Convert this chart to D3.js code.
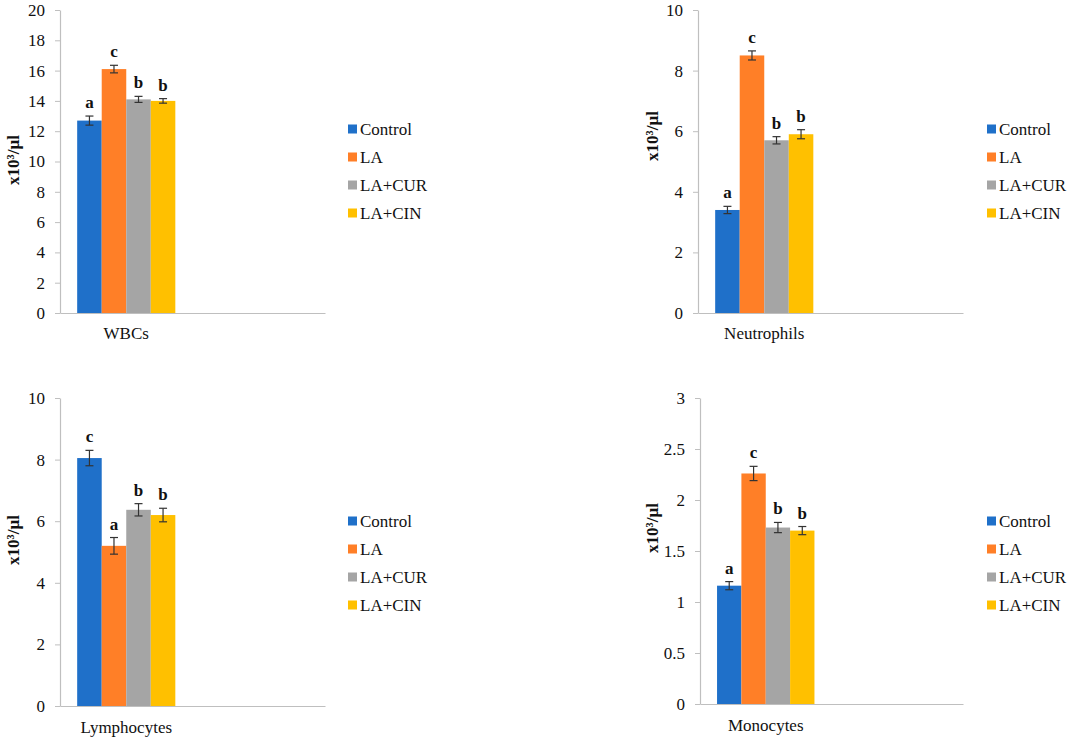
<!DOCTYPE html>
<html><head><meta charset="utf-8">
<script src="https://cdn.jsdelivr.net/npm/d3@7"></script>
<style>
body{margin:0;background:#fff;}
svg text{font-family:"Liberation Serif","Times New Roman",serif !important;}
</style></head>
<body>
<svg id="chart" width="1072" height="738"></svg>
<script>
const groups = ["Control", "LA", "LA+CUR", "LA+CIN"];
const colors = ["#1F70C9", "#FF7F27", "#A5A5A5", "#FFC000"];
const panelNames = ["WBCs", "Neutrophils", "Lymphocytes", "Monocytes"];
const wbcValues = [12.7, 16.1, 14.1, 14.0];
const wbcErrors = [0.3, 0.25, 0.2, 0.15];
const wbcLetters = ["a", "c", "b", "b"];
const neuValues = [3.4, 8.5, 5.7, 5.9];
const neuErrors = [0.12, 0.15, 0.12, 0.15];
const neuLetters = ["a", "c", "b", "b"];
const lymValues = [8.05, 5.2, 6.37, 6.2];
const lymErrors = [0.25, 0.27, 0.2, 0.22];
const lymLetters = ["c", "a", "b", "b"];
const monValues = [1.16, 2.26, 1.73, 1.70];
const monErrors = [0.04, 0.07, 0.05, 0.04];
const monLetters = ["a", "c", "b", "b"];
const yMax = [20, 10, 10, 3];
const yStep = [2, 2, 2, 0.5];
const yTitle = "x10³/µl";

const FONT = "'Liberation Serif', 'Times New Roman', serif";
const layouts = [
  {x0: 60, x1: 325, yTop: 10, yBot: 313, catY: 339, titleX: 19, titleY: 160, legX: 348, legY: 129},
  {x0: 698, x1: 963, yTop: 10, yBot: 313, catY: 339, titleX: 658, titleY: 136, legX: 987, legY: 129},
  {x0: 60, x1: 325, yTop: 398, yBot: 706, catY: 733, titleX: 19, titleY: 540, legX: 348, legY: 521},
  {x0: 700, x1: 963, yTop: 398, yBot: 704, catY: 731, titleX: 658, titleY: 528, legX: 987, legY: 521}
];
const data = [
  [wbcValues, wbcErrors, wbcLetters],
  [neuValues, neuErrors, neuLetters],
  [lymValues, lymErrors, lymLetters],
  [monValues, monErrors, monLetters]
];

const svg = d3.select("#chart");

data.forEach((d, i) => {
  const L = layouts[i];
  const [vals, errs, lets] = d;
  const g = svg.append("g");
  const y = d3.scaleLinear().domain([0, yMax[i]]).range([L.yBot, L.yTop]);
  const xCat = d3.scaleBand().domain([panelNames[i], "_empty"]).range([L.x0, L.x1]);
  const xSub = d3.scaleBand().domain(groups).range([0, xCat.bandwidth()]).paddingOuter(0.7).paddingInner(0);

  const ticks = d3.range(0, yMax[i] + yStep[i] / 2, yStep[i]);
  const yAxis = d3.axisLeft(y).tickValues(ticks).tickSize(5).tickSizeOuter(0).tickPadding(10)
    .tickFormat(v => d3.format("~g")(v));
  const ya = g.append("g").attr("transform", `translate(${L.x0},0)`).call(yAxis);
  ya.attr("font-family", null).attr("font-size", null);
  ya.select(".domain").attr("stroke", "#BFBFBF").attr("stroke-width", 1.2);
  ya.selectAll(".tick line").attr("stroke", "#BFBFBF");
  ya.selectAll(".tick text").style("font-size", "17px").attr("fill", "#111").style("font-family", FONT);

  const xa = g.append("g").attr("transform", `translate(0,${L.yBot})`)
    .call(d3.axisBottom(xCat).tickSize(0).tickFormat(() => ""));
  xa.select(".domain").attr("stroke", "#BFBFBF").attr("stroke-width", 1.2);

  g.append("text").attr("x", xCat(panelNames[i]) + xCat.bandwidth() / 2).attr("y", L.catY)
    .attr("text-anchor", "middle").style("font-size", "17px").style("font-family", FONT).attr("fill", "#111").text(panelNames[i]);

  const bx = k => xCat(panelNames[i]) + xSub(groups[k]);
  g.selectAll("rect.bar").data(vals).enter().append("rect").attr("class", "bar")
    .attr("x", (v, k) => bx(k)).attr("width", xSub.bandwidth())
    .attr("y", v => y(v)).attr("height", v => L.yBot - y(v))
    .attr("fill", (v, k) => colors[k]);

  vals.forEach((v, k) => {
    const cx = bx(k) + xSub.bandwidth() / 2;
    const t = y(v + errs[k]), b = y(v - errs[k]);
    const eg = g.append("g").attr("stroke", "#333").attr("stroke-width", 1.2);
    eg.append("line").attr("x1", cx).attr("x2", cx).attr("y1", t).attr("y2", b);
    eg.append("line").attr("x1", cx - 4).attr("x2", cx + 4).attr("y1", t).attr("y2", t);
    eg.append("line").attr("x1", cx - 4).attr("x2", cx + 4).attr("y1", b).attr("y2", b);
    g.append("text").attr("x", cx).attr("y", t - 8).attr("text-anchor", "middle")
      .style("font-size", "17px").style("font-family", FONT).attr("font-weight", "bold").attr("fill", "#111").text(lets[k]);
  });

  g.append("text").attr("transform", `translate(${L.titleX},${L.titleY}) rotate(-90)`)
    .attr("text-anchor", "middle").style("font-size", "17px").style("font-family", FONT)
    .attr("font-weight", "bold").attr("fill", "#111").text(yTitle);

  const leg = g.append("g");
  groups.forEach((gr, k) => {
    leg.append("rect").attr("x", L.legX).attr("y", L.legY + k * 28 - 4.5).attr("width", 9).attr("height", 9).attr("fill", colors[k]);
    leg.append("text").attr("x", L.legX + 12).attr("y", L.legY + k * 28 + 6)
      .style("font-size", "17px").style("font-family", FONT).attr("fill", "#111").text(gr);
  });
});
</script>
</body></html>
